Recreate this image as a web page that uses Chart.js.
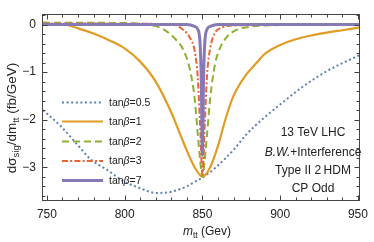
<!DOCTYPE html>
<html>
<head>
<meta charset="utf-8">
<script src="https://cdn.jsdelivr.net/npm/chart.js@4.4.1/dist/chart.umd.min.js"></script>
<style>
  html, body { margin: 0; padding: 0; background: #fff; }
</style>
</head>
<body>
<canvas id="chart" width="374" height="242"></canvas>
<script>
// Series data (m_tt in GeV, dsigma/dm in fb/GeV)
var seriesNames = ['0.5', '1', '2', '3', '7'];

var mass05 = [747.5, 750, 759, 770, 778, 789, 799, 810, 820, 828, 833, 840, 846, 850, 858, 871, 878, 890, 900, 914, 930, 948, 951.3];
var sig05  = [-1.80, -1.87, -2.14, -2.54, -2.83, -3.06, -3.29, -3.44, -3.54, -3.53, -3.49, -3.40, -3.29, -3.22, -3.02, -2.60, -2.32, -1.95, -1.68, -1.32, -0.98, -0.69, -0.64];

var mass1 = [747.5, 760, 770, 780, 790, 800, 810, 820, 830, 835, 840, 845, 850, 855, 860, 865, 870, 878, 885, 890, 900, 910, 920, 930, 940, 951.3];
var sig1  = [0.0, 0.0, -0.08, -0.19, -0.33, -0.5, -0.78, -1.2, -1.85, -2.25, -2.65, -3.0, -3.2, -3.0, -2.55, -1.97, -1.5, -1.06, -0.8, -0.62, -0.43, -0.31, -0.23, -0.17, -0.12, -0.06];

var mass2 = [747.5, 800, 815, 825, 833, 838, 842, 845, 847, 849, 850, 851, 853, 855, 858, 861, 866, 871, 880, 890, 951.3];
var sig2  = [0.04, 0.03, 0.0, -0.1, -0.32, -0.55, -0.95, -1.55, -2.3, -3.0, -3.2, -3.0, -2.3, -1.55, -0.85, -0.52, -0.25, -0.13, -0.05, -0.02, 0.0];

var mass3 = [747.5, 830, 838, 842, 845, 847, 848.5, 850, 851.5, 853, 855, 858, 862, 870, 951.3];
var sig3  = [0.02, 0.01, -0.12, -0.28, -0.55, -1.1, -2.1, -3.15, -2.1, -1.05, -0.5, -0.18, -0.07, -0.02, 0.0];

var mass7 = [747.5, 840, 845, 847, 848.5, 849.3, 850, 850.7, 851.5, 853, 855, 860, 951.3];
var sig7  = [0.0, 0.0, -0.04, -0.1, -0.4, -1.2, -2.75, -1.2, -0.4, -0.1, -0.04, 0.0, 0.0];

var xTicks = [750, 800, 850, 900, 950];
var yTicks = [0, -1, -2, -3];
var noteLines = ['13 TeV LHC', 'B.W.+Interference', 'Type II 2\u2009HDM', 'CP Odd'];

function toPoints(xs, ys) {
  return xs.map(function(v, i) { return { x: v, y: ys[i] }; });
}

var colors = ['#5e81b5', '#e19c24', '#8fb032', '#eb6235', '#8778b6'];
var widths = [2, 2.2, 2, 2, 3];
var dashes = [[2, 2.6], [], [7, 4], [6, 2.2, 2, 2.2], []];
var masses = [mass05, mass1, mass2, mass3, mass7];
var sigs = [sig05, sig1, sig2, sig3, sig7];

var datasets = seriesNames.map(function(name, i) {
  return {
    label: 'tan\u03b2=' + name,
    data: toPoints(masses[i], sigs[i]),
    borderColor: colors[i],
    borderWidth: widths[i],
    borderDash: dashes[i],
    pointRadius: 0,
    fill: false,
    cubicInterpolationMode: 'monotone',
    order: 5 - i
  };
});

var FONT = '"Liberation Sans", Arial, sans-serif';

// draw a run of text pieces [text, size, italic, dy]
function drawRich(ctx, pieces, x, y, align) {
  var total = 0;
  pieces.forEach(function(p) {
    ctx.font = (p[2] ? 'italic ' : '') + p[1] + 'px ' + FONT;
    total += ctx.measureText(p[0]).width;
  });
  var cx = align === 'center' ? x - total / 2 : x;
  pieces.forEach(function(p) {
    ctx.font = (p[2] ? 'italic ' : '') + p[1] + 'px ' + FONT;
    ctx.fillText(p[0], cx, y + (p[3] || 0));
    cx += ctx.measureText(p[0]).width;
  });
}

var decorations = {
  id: 'decorations',
  afterDraw: function(chart) {
    var ctx = chart.ctx;
    var a = chart.chartArea;
    var xs = chart.scales.x, ys = chart.scales.y;
    ctx.save();
    ctx.strokeStyle = '#444';
    ctx.lineWidth = 1;
    var L = Math.round(a.left) - 0.5, R = Math.round(a.right) - 0.5;
    var T = Math.round(a.top) + 0.5, B = Math.round(a.bottom) - 0.5;
    ctx.strokeRect(L, T, R - L, B - T);

    // x ticks (inward, bottom and top)
    ctx.beginPath();
    for (var m = 750; m <= 950; m += 10) {
      var px = Math.round(xs.getPixelForValue(m)) + 0.5;
      var len = (m % 50 === 0) ? 5 : 3;
      ctx.moveTo(px, B); ctx.lineTo(px, B - len);
      ctx.moveTo(px, T); ctx.lineTo(px, T + len);
    }
    // y ticks (inward, left and right)
    for (var k = -18; k <= 1; k++) {
      var v = k * 0.2;
      var py = Math.round(ys.getPixelForValue(v)) + 0.5;
      var ylen = (k % 5 === 0) ? 5 : 3;
      ctx.moveTo(L, py); ctx.lineTo(L + ylen, py);
      ctx.moveTo(R, py); ctx.lineTo(R - ylen, py);
    }
    ctx.stroke();

    ctx.fillStyle = '#222';
    ctx.textBaseline = 'alphabetic';

    // axis titles
    drawRich(ctx, [['m', 12, true], ['tt', 8.5, false, 2.5], [' (Gev)', 12, false]], 207, 235, 'center');
    ctx.save();
    ctx.translate(15.5, 118);
    ctx.rotate(-Math.PI / 2);
    drawRich(ctx, [['d\u03c3', 13.5, false], ['sig', 9.5, false, 3], ['/dm', 13.5, false], ['tt', 9.5, false, 3], [' (fb/GeV)', 13.5, false]], 0, 0, 'center');
    ctx.restore();

    // legend
    var rowY = [102.5, 121.5, 141.5, 161, 180.5];
    chart.data.datasets.forEach(function(ds, i) {
      ctx.save();
      ctx.strokeStyle = ds.borderColor;
      ctx.lineWidth = ds.borderWidth;
      ctx.setLineDash(ds.borderDash);
      ctx.beginPath();
      ctx.moveTo(62, rowY[i]);
      ctx.lineTo(103, rowY[i]);
      ctx.stroke();
      ctx.restore();
      ctx.textBaseline = 'middle';
      drawRich(ctx, [['tan', 10.5, false], ['\u03b2', 10.5, true], ['=' + seriesNames[i], 10.5, false]], 109, rowY[i] + 0.5, 'left');
    });

    // annotation
    ctx.textBaseline = 'middle';
    drawRich(ctx, [[noteLines[0], 12, false]], 313, 133, 'center');
    drawRich(ctx, [['B.W.', 12, true], ['+Interference', 12, false]], 313, 153, 'center');
    drawRich(ctx, [[noteLines[2], 12, false]], 313, 171, 'center');
    drawRich(ctx, [[noteLines[3], 12, false]], 313, 188.5, 'center');
    ctx.restore();
  }
};

new Chart(document.getElementById('chart'), {
  type: 'line',
  data: { datasets: datasets },
  options: {
    responsive: false,
    animation: false,
    layout: { padding: { top: 2, right: 9, left: 0, bottom: 0 } },
    plugins: { legend: { display: false }, tooltip: { enabled: false } },
    scales: {
      x: {
        type: 'linear',
        min: 747.5,
        max: 951.3,
        grid: { display: false, drawTicks: false },
        border: { display: false },
        afterBuildTicks: function(scale) {
          scale.ticks = xTicks.map(function(v) { return { value: v }; });
        },
        afterFit: function(scale) { scale.height = 41; },
        ticks: {
          padding: 6,
          maxRotation: 0,
          color: '#222',
          font: { family: FONT, size: 12 },
          callback: function(v) { return String(v); }
        }
      },
      y: {
        type: 'linear',
        min: -3.71,
        max: 0.217,
        grid: { display: false, drawTicks: false },
        border: { display: false },
        afterBuildTicks: function(scale) {
          scale.ticks = yTicks.map(function(v) { return { value: v }; });
        },
        afterFit: function(scale) { scale.width = 43; },
        ticks: {
          padding: 7,
          color: '#222',
          font: { family: FONT, size: 12 },
          callback: function(v) { return v < 0 ? '\u2212' + Math.abs(v) : String(v); }
        }
      }
    }
  },
  plugins: [decorations]
});
</script>
</body>
</html>
